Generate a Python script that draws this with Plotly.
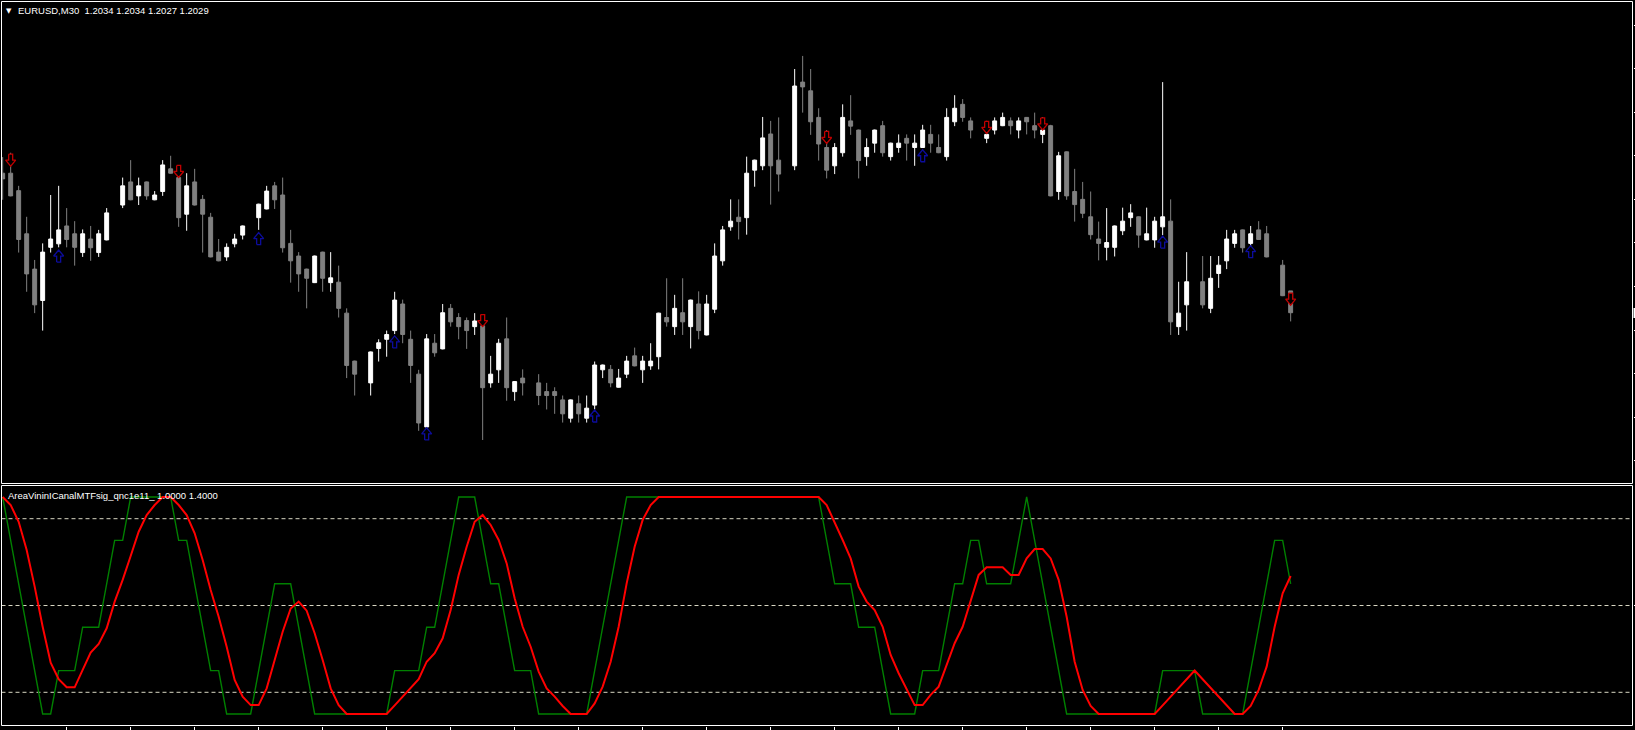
import plotly.graph_objects as go

W, H = 1635, 730

# ---- EURUSD M30 candles (bar index 0..161); None = doji bar drawn invisibly ----
OPEN = [1.20610, 1.20610, 1.20570, 1.20471, 1.20390, 1.20318, 1.20440, 1.20448, 1.20489, 1.20471,
        1.20428, 1.20459, 1.20428, 1.20457, None, 1.20537, 1.20590, 1.20558, 1.20590, 1.20549,
        1.20568, 1.20620, 1.20600, 1.20516, 1.20590, 1.20550, 1.20509, 1.20429, 1.20418, 1.20448,
        1.20468, None, 1.20508, 1.20528, 1.20581, 1.20560, 1.20449, 1.20420, 1.20390, 1.20359,
        1.20429, 1.20359, 1.20360, 1.20289, 1.20179, None, 1.20129, 1.20208, 1.20229, 1.20249,
        1.20310, 1.20229, 1.20149, 1.20028, 1.20220, 1.20207, 1.20300, 1.20279, 1.20272, 1.20258,
        1.20260, 1.20129, 1.20159, 1.20230, 1.20109, 1.20140, None, 1.20129, 1.20109, 1.20109,
        1.20090, 1.20048, 1.20081, 1.20048, 1.20078, 1.20159, 1.20160, 1.20119, 1.20149, 1.20191,
        1.20159, 1.20168, 1.20189, 1.20279, 1.20258, 1.20290, 1.20258, 1.20310, 1.20239, 1.20298,
        1.20409, 1.20487, 1.20509, 1.20508, 1.20617, 1.20627, 1.20700, 1.20640, None, 1.20627,
        1.20819, 1.20799, 1.20738, 1.20669, 1.20627, 1.20657, 1.20730, 1.20709, 1.20648, 1.20679,
        1.20719, 1.20648, 1.20669, 1.20690, 1.20669, 1.20669, 1.20699, 1.20669, 1.20648, 1.20728,
        1.20768, 1.20730, None, 1.20690, 1.20709, 1.20719, 1.20730, 1.20709, 1.20738, 1.20719,
        1.20699, 1.20719, 1.20568, 1.20659, 1.20568, 1.20550, 1.20510, 1.20459, 1.20440, 1.20440,
        1.20478, 1.20508, 1.20510, 1.20457, 1.20457, 1.20487, 1.20500, 1.20258, 1.20308, None,
        1.20361, 1.20300, 1.20380, 1.20409, 1.20449, 1.20480, 1.20449, 1.20480, 1.20471, None,
        1.20399, 1.20340]
HIGH = [1.20647, 1.20657, 1.20581, 1.20510, 1.20411, 1.20449, 1.20560, 1.20581, 1.20530, 1.20500,
        1.20481, 1.20489, 1.20480, 1.20530, None, 1.20600, 1.20640, 1.20600, 1.20591, 1.20569,
        1.20640, 1.20650, 1.20610, 1.20610, 1.20620, 1.20560, 1.20519, 1.20459, 1.20449, 1.20471,
        1.20490, None, 1.20540, 1.20581, 1.20590, 1.20600, 1.20480, 1.20429, 1.20391, 1.20421,
        1.20430, 1.20429, 1.20398, 1.20300, 1.20180, None, 1.20201, 1.20229, 1.20249, 1.20338,
        1.20320, 1.20249, 1.20159, 1.20241, 1.20241, 1.20310, 1.20310, 1.20289, 1.20279, 1.20289,
        1.20269, 1.20191, 1.20230, 1.20279, 1.20133, 1.20160, None, 1.20149, 1.20129, 1.20119,
        1.20100, 1.20091, 1.20100, 1.20100, 1.20178, 1.20171, 1.20170, 1.20161, 1.20191, 1.20210,
        1.20191, 1.20220, 1.20290, 1.20369, 1.20331, 1.20369, 1.20320, 1.20339, 1.20331, 1.20449,
        1.20489, 1.20550, 1.20550, 1.20648, 1.20641, 1.20739, 1.20730, 1.20738, None, 1.20849,
        1.20879, 1.20849, 1.20759, 1.20709, 1.20679, 1.20768, 1.20789, 1.20710, 1.20690, 1.20710,
        1.20730, 1.20680, 1.20699, 1.20699, 1.20699, 1.20721, 1.20721, 1.20699, 1.20759, 1.20789,
        1.20780, 1.20738, None, 1.20730, 1.20738, 1.20749, 1.20738, 1.20738, 1.20739, 1.20749,
        1.20738, 1.20721, 1.20659, 1.20660, 1.20620, 1.20590, 1.20568, 1.20499, 1.20530, 1.20490,
        1.20531, 1.20539, 1.20511, 1.20531, 1.20510, 1.20819, 1.20550, 1.20361, 1.20429, None,
        1.20420, 1.20420, 1.20420, 1.20480, 1.20480, 1.20481, 1.20489, 1.20500, 1.20489, None,
        1.20411, 1.20340]
LOW = [1.20549, 1.20557, 1.20428, 1.20338, 1.20289, 1.20249, 1.20428, 1.20440, 1.20440, 1.20398,
       1.20418, 1.20409, 1.20418, 1.20456, None, 1.20530, 1.20548, 1.20537, 1.20549, 1.20548,
       1.20558, 1.20609, 1.20487, 1.20478, 1.20536, 1.20428, 1.20417, 1.20408, 1.20409, 1.20440,
       1.20458, None, 1.20480, 1.20527, 1.20528, 1.20428, 1.20359, 1.20338, 1.20300, 1.20358,
       1.20338, 1.20338, 1.20279, 1.20140, 1.20100, None, 1.20100, 1.20178, 1.20189, 1.20241,
       1.20220, 1.20129, 1.20019, 1.20027, 1.20189, 1.20206, 1.20258, 1.20229, 1.20207, 1.20239,
       1.19998, 1.20118, 1.20129, 1.20088, 1.20088, 1.20100, None, 1.20078, 1.20068, 1.20058,
       1.20038, 1.20038, 1.20038, 1.20038, 1.20068, 1.20140, 1.20119, 1.20118, 1.20140, 1.20167,
       1.20129, 1.20159, 1.20160, 1.20258, 1.20239, 1.20239, 1.20208, 1.20229, 1.20238, 1.20289,
       1.20398, 1.20478, 1.20458, 1.20469, 1.20579, 1.20617, 1.20538, 1.20568, None, 1.20617,
       1.20749, 1.20698, 1.20639, 1.20598, 1.20608, 1.20648, 1.20698, 1.20598, 1.20627, 1.20657,
       1.20648, 1.20639, 1.20657, 1.20639, 1.20627, 1.20668, 1.20657, 1.20656, 1.20639, 1.20718,
       1.20728, 1.20690, None, 1.20679, 1.20699, 1.20718, 1.20699, 1.20690, 1.20699, 1.20690,
       1.20679, 1.20557, 1.20549, 1.20549, 1.20499, 1.20507, 1.20458, 1.20410, 1.20410, 1.20419,
       1.20468, 1.20487, 1.20439, 1.20456, 1.20439, 1.20468, 1.20239, 1.20239, 1.20249, None,
       1.20300, 1.20289, 1.20347, 1.20390, 1.20439, 1.20428, 1.20439, 1.20457, 1.20417, None,
       1.20328, 1.20270]
CLOSE = [1.20597, 1.20558, 1.20458, 1.20379, 1.20308, 1.20429, 1.20459, 1.20480, 1.20458, 1.20440,
         1.20471, 1.20439, 1.20471, 1.20519, None, 1.20581, 1.20549, 1.20581, 1.20558, 1.20560,
         1.20629, 1.20610, 1.20508, 1.20581, 1.20537, 1.20516, 1.20418, 1.20409, 1.20440, 1.20459,
         1.20489, None, 1.20539, 1.20569, 1.20549, 1.20439, 1.20409, 1.20379, 1.20369, 1.20420,
         1.20369, 1.20370, 1.20300, 1.20169, 1.20149, None, 1.20200, 1.20221, 1.20240, 1.20319,
         1.20240, 1.20169, 1.20037, 1.20230, 1.20198, 1.20290, 1.20269, 1.20258, 1.20249, 1.20271,
         1.20118, 1.20149, 1.20220, 1.20118, 1.20132, 1.20129, None, 1.20100, 1.20100, 1.20100,
         1.20058, 1.20090, 1.20058, 1.20071, 1.20170, 1.20170, 1.20129, 1.20140, 1.20179, 1.20168,
         1.20179, 1.20179, 1.20289, 1.20269, 1.20300, 1.20269, 1.20319, 1.20249, 1.20310, 1.20420,
         1.20480, 1.20500, 1.20499, 1.20610, 1.20640, 1.20691, 1.20627, 1.20608, None, 1.20810,
         1.20808, 1.20728, 1.20677, 1.20617, 1.20669, 1.20738, 1.20718, 1.20639, 1.20669, 1.20709,
         1.20657, 1.20679, 1.20679, 1.20679, 1.20679, 1.20709, 1.20679, 1.20657, 1.20738, 1.20759,
         1.20738, 1.20709, None, 1.20699, 1.20730, 1.20738, 1.20719, 1.20730, 1.20728, 1.20709,
         1.20709, 1.20558, 1.20650, 1.20558, 1.20538, 1.20518, 1.20469, 1.20449, 1.20451, 1.20489,
         1.20500, 1.20519, 1.20468, 1.20471, 1.20500, 1.20510, 1.20269, 1.20289, 1.20361, None,
         1.20308, 1.20369, 1.20399, 1.20459, 1.20471, 1.20439, 1.20471, 1.20458, 1.20418, None,
         1.20329, 1.20290]

# ---- signal arrows ----
SELL_BARS = [1, 22, 60, 103, 123, 130, 161]
SELL_PRICE = [1.20640, 1.20614, 1.20272, 1.20692, 1.20715, 1.20723, 1.20321]
BUY_BARS = [7, 32, 49, 53, 74, 115, 145, 156]
BUY_PRICE = [1.20420, 1.20460, 1.20223, 1.20012, 1.20053, 1.20650, 1.20452, 1.20430]

# ---- indicator window ----
GREEN = [1.0, 0.8, 0.6, 0.4, 0.2, 0.0, 0.0, 0.2, 0.2, 0.2,
         0.4, 0.4, 0.4, 0.6, 0.8, 0.8, 1.0, 1.0, 1.0, 1.0,
         1.0, 1.0, 0.8, 0.8, 0.6, 0.4, 0.2, 0.2, 0.0, 0.0,
         0.0, 0.0, 0.2, 0.4, 0.6, 0.6, 0.6, 0.4, 0.2, 0.0,
         0.0, 0.0, 0.0, 0.0, 0.0, 0.0, 0.0, 0.0, 0.0, 0.2,
         0.2, 0.2, 0.2, 0.4, 0.4, 0.6, 0.8, 1.0, 1.0, 1.0,
         0.8, 0.6, 0.6, 0.4, 0.2, 0.2, 0.2, 0.0, 0.0, 0.0,
         0.0, 0.0, 0.0, 0.0, 0.2, 0.4, 0.6, 0.8, 1.0, 1.0,
         1.0, 1.0, 1.0, 1.0, 1.0, 1.0, 1.0, 1.0, 1.0, 1.0,
         1.0, 1.0, 1.0, 1.0, 1.0, 1.0, 1.0, 1.0, 1.0, 1.0,
         1.0, 1.0, 1.0, 0.8, 0.6, 0.6, 0.6, 0.4, 0.4, 0.4,
         0.2, 0.0, 0.0, 0.0, 0.0, 0.2, 0.2, 0.2, 0.4, 0.6,
         0.6, 0.8, 0.8, 0.6, 0.6, 0.6, 0.6, 0.8, 1.0, 0.8,
         0.6, 0.4, 0.2, 0.0, 0.0, 0.0, 0.0, 0.0, 0.0, 0.0,
         0.0, 0.0, 0.0, 0.0, 0.0, 0.2, 0.2, 0.2, 0.2, 0.2,
         0.0, 0.0, 0.0, 0.0, 0.0, 0.0, 0.2, 0.4, 0.6, 0.8,
         0.8, 0.6]
RED = [1.0, 0.963, 0.886, 0.756, 0.587, 0.402, 0.236, 0.160, 0.123, 0.123,
       0.203, 0.283, 0.323, 0.395, 0.518, 0.618, 0.728, 0.840, 0.917, 0.963,
       1.0, 1.0, 0.963, 0.917, 0.833, 0.710, 0.571, 0.448, 0.310, 0.157,
       0.080, 0.041, 0.041, 0.118, 0.249, 0.379, 0.486, 0.518, 0.476, 0.372,
       0.249, 0.118, 0.041, 0.0, 0.0, 0.0, 0.0, 0.0, 0.0, 0.04,
       0.08, 0.115, 0.16, 0.241, 0.280, 0.349, 0.479, 0.641, 0.771, 0.886,
       0.917, 0.871, 0.802, 0.694, 0.533, 0.402, 0.310, 0.195, 0.118, 0.080,
       0.037, 0.0, 0.0, 0.0, 0.049, 0.126, 0.241, 0.402, 0.602, 0.771,
       0.894, 0.963, 1.0, 1.0, 1.0, 1.0, 1.0, 1.0, 1.0, 1.0,
       1.0, 1.0, 1.0, 1.0, 1.0, 1.0, 1.0, 1.0, 1.0, 1.0,
       1.0, 1.0, 1.0, 0.963, 0.886, 0.802, 0.717, 0.587, 0.518, 0.479,
       0.402, 0.272, 0.188, 0.111, 0.041, 0.041, 0.088, 0.126, 0.226, 0.326,
       0.402, 0.518, 0.641, 0.676, 0.676, 0.676, 0.641, 0.641, 0.717, 0.760,
       0.760, 0.717, 0.618, 0.448, 0.241, 0.111, 0.037, 0.0, 0.0, 0.0,
       0.0, 0.0, 0.0, 0.0, 0.0, 0.04, 0.08, 0.12, 0.16, 0.2,
       0.16, 0.12, 0.08, 0.035, 0.0, 0.0, 0.037, 0.111, 0.218, 0.402,
       0.556, 0.636]
LEVELS = [0.1, 0.5, 0.9]

PRICE_TICKS = [1.2095, 1.2085, 1.2075, 1.2065, 1.2055, 1.2045, 1.2035, 1.2025, 1.2015, 1.2005, 1.1995]
TIME_TICKS = list(range(8, 161, 8))

TITLE = "EURUSD,M30  1.2034 1.2034 1.2027 1.2029"
IND_TITLE = "AreaVininICanalMTFsig_qnc1e11_ 1.0000 1.4000"

# ---- layout geometry (pixels) ----
LEFT, RIGHT = 1.5, 1632.5
UP_TOP, UP_BOT = 1.5, 483.5
LO_TOP, LO_BOT = 485.5, 725.5
X_RANGE = [-0.146, 203.73]
Y_RANGE = [1.198982, 1.210039]
Y2_RANGE = [-0.053, 1.053]

# arrow glyph outline (pixel offsets, y downwards) for a down arrow
ARROW_GLYPH = [(-2, -6), (2, -6), (2, 0), (5, 0), (0, 6), (-5, 0), (-2, 0), (-2, -6)]


def fx(p):
    return p / W


def fy(p):
    return 1 - p / H


bars_per_px = (X_RANGE[1] - X_RANGE[0]) / (RIGHT - LEFT)
price_per_px = (Y_RANGE[1] - Y_RANGE[0]) / (UP_BOT - UP_TOP)


def arrow_paths(bars_, prices, up):
    xs, ys = [], []
    for b, p in zip(bars_, prices):
        for dx, dy in ARROW_GLYPH:
            if up:
                dy = -dy
            xs.append(b + dx * bars_per_px)
            ys.append(p - dy * price_per_px)
        xs.append(None)
        ys.append(None)
    return xs, ys


bars = list(range(len(OPEN)))
idx = [i for i in bars if OPEN[i] is not None]

fig = go.Figure()
fig.add_trace(go.Candlestick(
    x=idx,
    open=[OPEN[i] for i in idx], high=[HIGH[i] for i in idx],
    low=[LOW[i] for i in idx], close=[CLOSE[i] for i in idx],
    increasing=dict(fillcolor="#ffffff", line=dict(color="#ffffff", width=1)),
    decreasing=dict(fillcolor="#808080", line=dict(color="#808080", width=1)),
    whiskerwidth=0, hoverinfo="skip", showlegend=False,
    xaxis="x", yaxis="y"))

sx, sy = arrow_paths(SELL_BARS, SELL_PRICE, up=False)
fig.add_trace(go.Scatter(
    x=sx, y=sy, mode="lines", fill="toself", fillcolor="#000000",
    line=dict(color="#c00000", width=1.3),
    hoverinfo="skip", showlegend=False, xaxis="x", yaxis="y"))
bx, by = arrow_paths(BUY_BARS, BUY_PRICE, up=True)
fig.add_trace(go.Scatter(
    x=bx, y=by, mode="lines", fill="toself", fillcolor="#000000",
    line=dict(color="#0c0c9c", width=1.3),
    hoverinfo="skip", showlegend=False, xaxis="x", yaxis="y"))

for lv in LEVELS:
    fig.add_shape(type="line", xref="x2", yref="y2", x0=X_RANGE[0], x1=X_RANGE[1], y0=lv, y1=lv,
                  line=dict(color="#d8d6c2", width=1, dash="4px,3px"), layer="below")

fig.add_trace(go.Scatter(
    x=bars, y=GREEN, mode="lines", line=dict(color="#008000", width=1.4),
    hoverinfo="skip", showlegend=False, xaxis="x2", yaxis="y2"))
fig.add_trace(go.Scatter(
    x=bars, y=RED, mode="lines", line=dict(color="#ff0000", width=2),
    hoverinfo="skip", showlegend=False, xaxis="x2", yaxis="y2"))

# pane borders
for top, bot in [(UP_TOP, UP_BOT), (LO_TOP, LO_BOT)]:
    fig.add_shape(type="rect", xref="paper", yref="paper",
                  x0=fx(LEFT), x1=fx(RIGHT), y0=fy(bot), y1=fy(top),
                  line=dict(color="white", width=1), fillcolor="rgba(0,0,0,0)")
# current price marker (cut off at the right edge)
fig.add_shape(type="rect", xref="paper", yref="paper",
              x0=fx(1633.5), x1=fx(1636), y0=fy(318), y1=fy(308),
              line=dict(width=0), fillcolor="white")

fig.add_annotation(xref="paper", yref="paper", x=fx(9), y=fy(11), text="\u25bc",
                   showarrow=False, xanchor="center", yanchor="middle",
                   font=dict(family="DejaVu Sans", size=7, color="white"))
fig.add_annotation(xref="paper", yref="paper", x=fx(15.5), y=fy(11), text=TITLE,
                   showarrow=False, xanchor="left", yanchor="middle",
                   font=dict(family="Liberation Sans", size=9.5, color="white"))
fig.add_annotation(xref="paper", yref="paper", x=fx(5.5), y=fy(495), text=IND_TITLE,
                   showarrow=False, xanchor="left", yanchor="middle",
                   font=dict(family="Liberation Sans", size=9.5, color="white"))

axis_common = dict(showgrid=False, zeroline=False, showline=False, showticklabels=False,
                   tickcolor="white", tickwidth=1, fixedrange=True)
fig.update_layout(
    width=W, height=H, margin=dict(l=0, r=0, t=0, b=0), autosize=False,
    paper_bgcolor="black", plot_bgcolor="black", showlegend=False,
    boxgap=0.3, boxgroupgap=0.3,
    xaxis=dict(domain=[fx(LEFT), fx(RIGHT)], range=X_RANGE, anchor="y", ticks="",
               rangeslider=dict(visible=False), **axis_common),
    yaxis=dict(domain=[fy(UP_BOT), fy(UP_TOP)], range=Y_RANGE, anchor="x", side="right",
               ticks="outside", ticklen=3, tickvals=PRICE_TICKS, **axis_common),
    xaxis2=dict(domain=[fx(LEFT), fx(RIGHT)], range=X_RANGE, anchor="y2", ticks="outside",
                ticklen=5, tickvals=TIME_TICKS, **axis_common),
    yaxis2=dict(domain=[fy(LO_BOT), fy(LO_TOP)], range=Y2_RANGE, anchor="x2", side="right",
                ticks="outside", ticklen=3, tickvals=[0.5], **axis_common),
)

fig.write_html("out.html", config={"displayModeBar": False},
               post_script="document.body.style.margin='0';document.body.style.overflow='hidden';document.body.style.background='black';")
